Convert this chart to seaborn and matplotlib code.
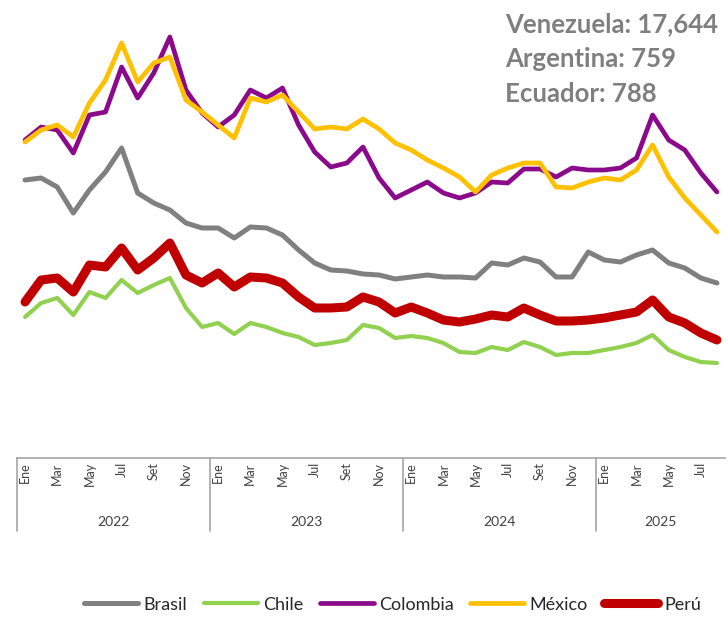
import pandas as pd
import matplotlib
matplotlib.use('Agg')
import matplotlib.pyplot as plt
import matplotlib.transforms as mtransforms
import seaborn as sns

# Datos (índice relativo)
meses = ['Ene', 'Feb', 'Mar', 'Abr', 'May', 'Jun', 'Jul', 'Ago', 'Set', 'Oct', 'Nov', 'Dic']
anios = ['2022', '2023', '2024', '2025']
n_meses_2025 = 8

brasil = [278, 280, 271, 245, 268, 286, 310, 265, 255, 248, 235, 230,
          230, 220, 231, 230, 223, 208, 195, 188, 187, 184, 183, 179,
          181, 183, 181, 181, 180, 195, 193, 200, 196, 181, 181, 206,
          198, 196, 203, 208, 195, 190, 180, 175]
chile = [141, 155, 160, 143, 166, 160, 178, 165, 173, 180, 150, 131,
         135, 124, 135, 131, 125, 121, 113, 115, 118, 133, 130, 120,
         122, 120, 115, 106, 105, 111, 108, 116, 111, 103, 105, 105,
         108, 111, 115, 123, 108, 101, 96, 95]
colombia = [318, 331, 328, 305, 343, 346, 391, 360, 385, 421, 368, 345,
            331, 343, 368, 360, 370, 333, 306, 291, 295, 311, 280, 260,
            268, 276, 265, 260, 265, 276, 275, 289, 289, 281, 290, 288,
            288, 290, 300, 343, 318, 308, 285, 266]
mexico = [316, 328, 333, 321, 355, 378, 415, 376, 395, 401, 358, 346,
          333, 320, 360, 356, 363, 346, 329, 331, 329, 339, 329, 315,
          308, 298, 290, 281, 266, 283, 290, 295, 295, 271, 270, 276,
          280, 278, 288, 313, 281, 260, 243, 226]
peru = [156, 178, 180, 166, 193, 191, 210, 188, 200, 215, 183, 175,
        185, 171, 181, 180, 175, 161, 150, 150, 151, 161, 156, 145,
        151, 145, 138, 136, 139, 143, 141, 150, 143, 137, 137, 138,
        140, 143, 146, 158, 141, 135, 125, 118]

paises = ['Brasil', 'Chile', 'Colombia', 'México', 'Perú']
colores = {'Brasil': '#808080', 'Chile': '#92D050', 'Colombia': '#8B0A8B',
           'México': '#FFC000', 'Perú': '#C00000'}
grosores = {'Brasil': 3.6, 'Chile': 3.0, 'Colombia': 3.4, 'México': 3.4, 'Perú': 6.5}

etiquetas_mes = []
for a in anios:
    n = n_meses_2025 if a == '2025' else 12
    etiquetas_mes += meses[:n]

serie = {'Brasil': brasil, 'Chile': chile, 'Colombia': colombia,
         'México': mexico, 'Perú': peru}
filas = []
for p in paises:
    for i, v in enumerate(serie[p]):
        filas.append({'idx': i, 'pais': p, 'valor': v})
df = pd.DataFrame(filas)

sns.set_theme(style='white')
plt.rcParams['font.family'] = ['Lato', 'DejaVu Sans']

fig = plt.figure(figsize=(7.28, 6.17), dpi=100)
ax = fig.add_axes([17 / 728, 159 / 617, 708 / 728, 448 / 617])

sns.lineplot(data=df, x='idx', y='valor', hue='pais', size='pais',
             hue_order=paises, size_order=paises,
             palette=colores, sizes=grosores, ax=ax, legend=True)

handles, labels = ax.get_legend_handles_labels()
ax.get_legend().remove()
pares = [(h, l) for h, l in zip(handles, labels) if l in paises]

n_total = len(etiquetas_mes)
ax.set_xlim(-0.5, n_total - 0.5)
ax.set_ylim(0, 448)
ax.set_xlabel('')
ax.set_ylabel('')
ax.set_yticks([])
ticks = list(range(0, n_total, 2))
ax.set_xticks(ticks)
ax.set_xticklabels([etiquetas_mes[i] for i in ticks], rotation=90,
                   fontsize=9, color='#404040', va='top')
ax.tick_params(axis='x', length=0, pad=3)

for s in ['top', 'right', 'left']:
    ax.spines[s].set_visible(False)
ax.spines['bottom'].set_color('#A6A6A6')
ax.spines['bottom'].set_linewidth(1.2)

# Separadores y etiquetas de año
trans = mtransforms.blended_transform_factory(ax.transData, ax.transAxes)
inicio = -0.5
for a in anios:
    n = n_meses_2025 if a == '2025' else 12
    ax.plot([inicio, inicio], [0, -0.162], transform=trans, color='#A6A6A6',
            lw=1.2, clip_on=False)
    ax.text(inicio + n / 2, -0.142, a, transform=trans, ha='center', va='center',
            fontsize=10, color='#404040')
    inicio += n

# Notas de otros países
notas = ['Venezuela: 17,644', 'Argentina: 759', 'Ecuador: 788']
for k, t in enumerate(notas):
    fig.text(505 / 728, 1 - (32 + 35 * k) / 617, t, ha='left', va='baseline',
             fontsize=18.5, fontweight='bold', color='#7F7F7F')

fig.legend([h for h, l in pares], [l for h, l in pares], loc='center',
           bbox_to_anchor=(0.539, 0.02), ncol=5, frameon=False, fontsize=13,
           handlelength=3.0, handletextpad=0.3, columnspacing=0.9)

fig.savefig('out.png', dpi=100)
